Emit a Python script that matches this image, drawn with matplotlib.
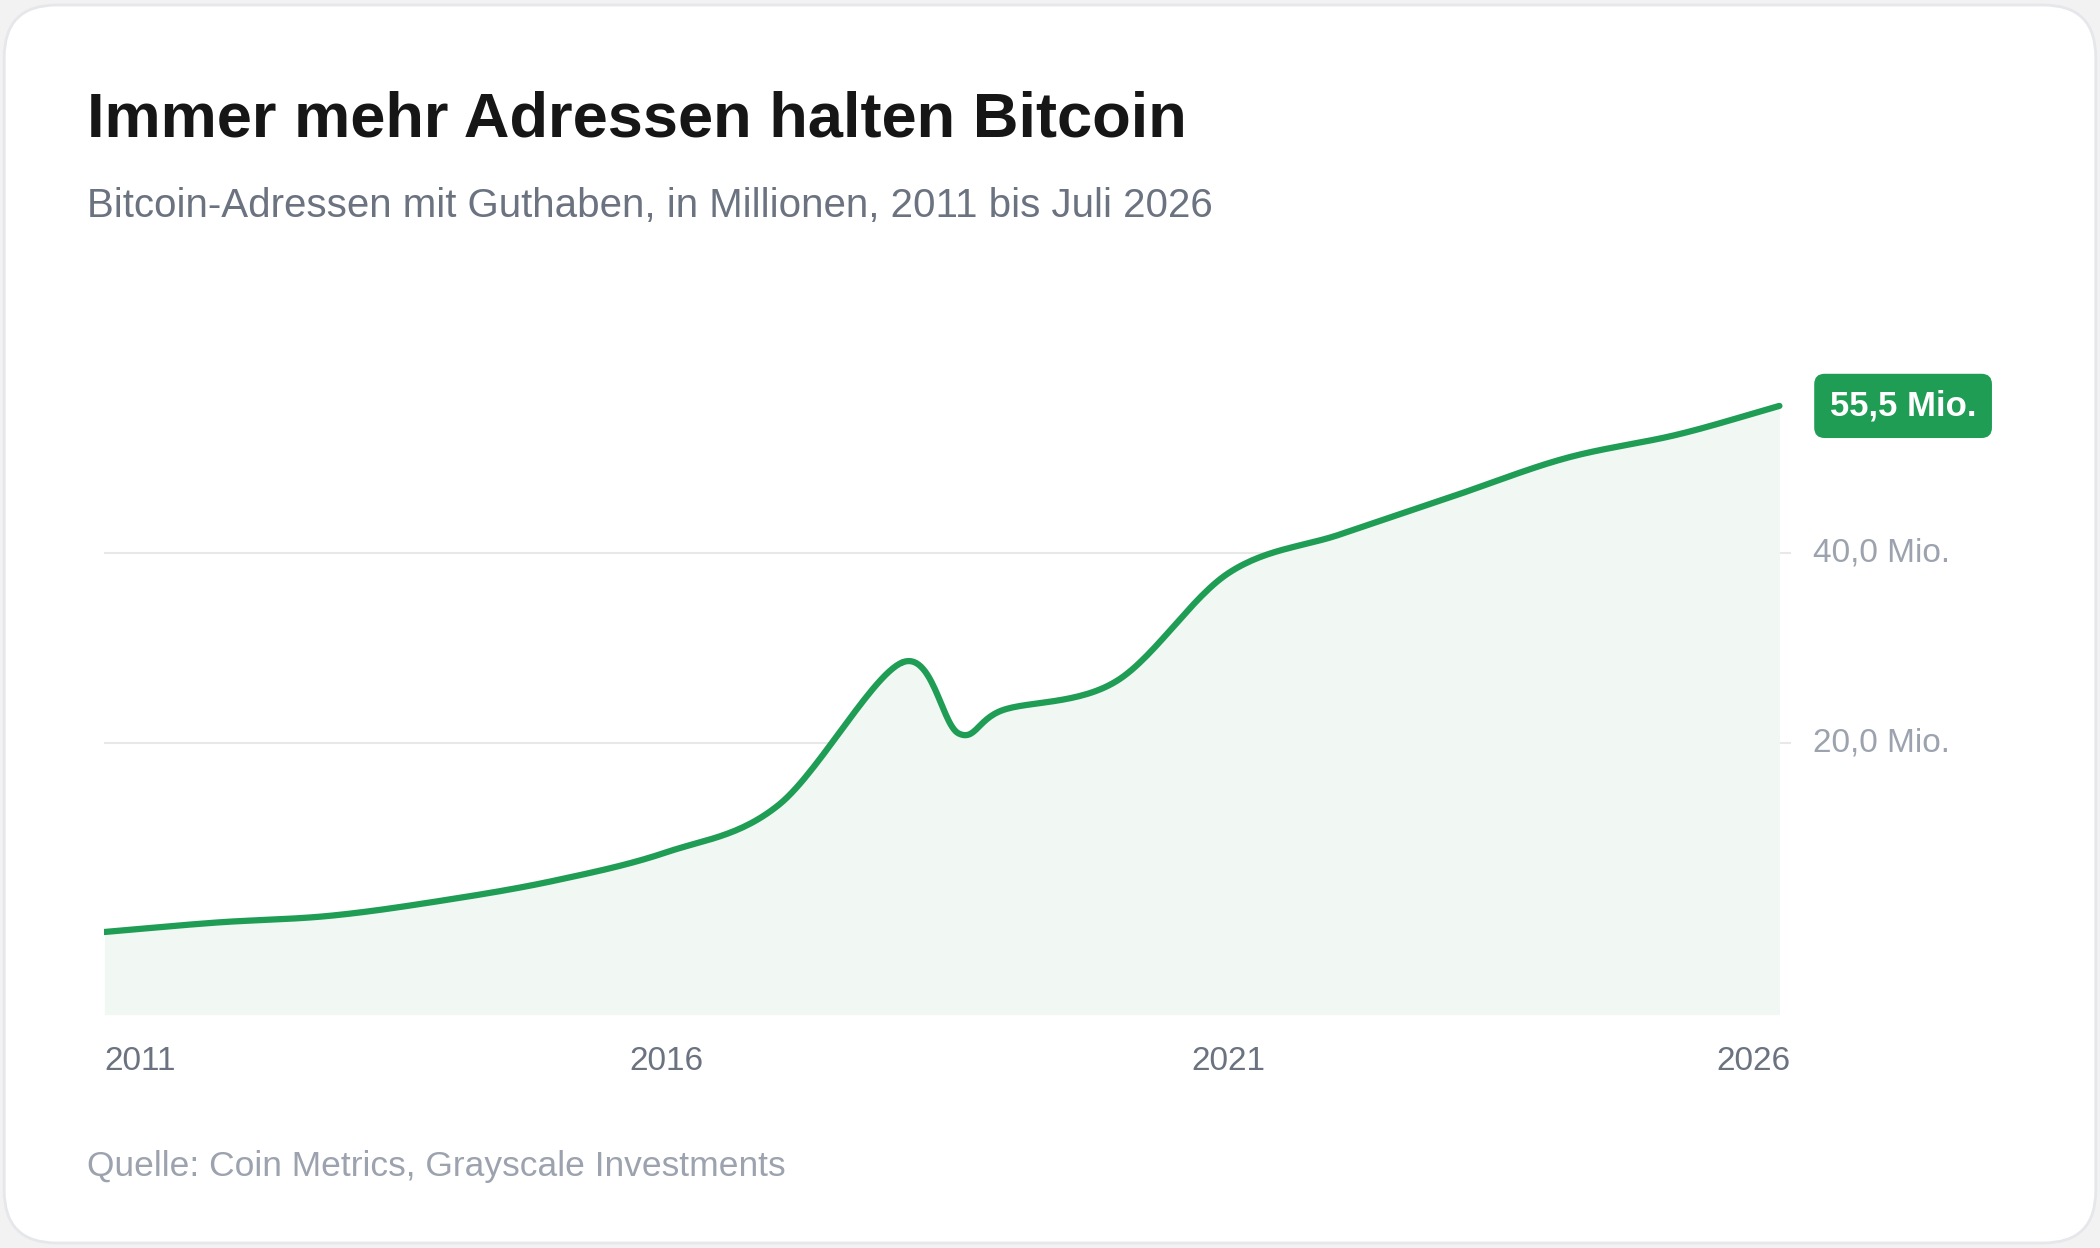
import matplotlib.pyplot as plt
import numpy as np
from matplotlib.patches import FancyBboxPatch

plt.rcParams['font.family'] = ['Liberation Sans', 'DejaVu Sans']

# Daten (Millionen Adressen mit Guthaben)
years = [2011.0, 2012.0, 2013.0, 2014.0, 2015.0, 2016.0, 2017.0, 2018.1, 2018.6,
         2019.0, 2020.0, 2021.0, 2022.0, 2023.0, 2024.0, 2025.0, 2025.9]
addresses = [0.1, 1.1, 1.8, 3.4, 5.5, 8.5, 13.5, 28.5, 21.0,
             23.5, 26.5, 37.9, 42.0, 46.0, 50.0, 52.5, 55.5]
tick_years = [2011, 2016, 2021, 2026]
y_ticks = [20, 40]
last_label = '55,5 Mio.'

green = '#1f9d55'


def smooth(x, y, n=30):
    # Catmull-Rom Spline durch die Punkte
    x = np.asarray(x); y = np.asarray(y)
    px = np.concatenate([[2 * x[0] - x[1]], x, [2 * x[-1] - x[-2]]])
    py = np.concatenate([[2 * y[0] - y[1]], y, [2 * y[-1] - y[-2]]])
    xs, ys = [], []
    t = np.linspace(0, 1, n)
    for i in range(1, len(px) - 2):
        for p, out in ((px, xs), (py, ys)):
            p0, p1, p2, p3 = p[i - 1], p[i], p[i + 1], p[i + 2]
            out.extend(0.5 * (2 * p1 + (-p0 + p2) * t + (2 * p0 - 5 * p1 + 4 * p2 - p3) * t ** 2
                              + (-p0 + 3 * p1 - 3 * p2 + p3) * t ** 3))
    return np.array(xs), np.array(ys)


fig = plt.figure(figsize=(21, 12.48), dpi=100)
fig.patch.set_facecolor('#f2f2f2')
card = FancyBboxPatch((0.002, 0.004), 0.996, 0.992, boxstyle='round,pad=0,rounding_size=0.025',
                      transform=fig.transFigure, facecolor='white', edgecolor='#e5e7eb', lw=2,
                      mutation_aspect=21 / 12.48, zorder=-10)
fig.patches.append(card)

fig.text(0.0415, 0.904, 'Immer mehr Adressen halten Bitcoin', fontsize=45.5, fontweight='bold',
         color='#161616', va='center')
fig.text(0.0415, 0.835, 'Bitcoin-Adressen mit Guthaben, in Millionen, 2011 bis Juli 2026',
         fontsize=29, color='#6b7280', va='center')
fig.text(0.0415, 0.065, 'Quelle: Coin Metrics, Grayscale Investments', fontsize=25.5,
         color='#9ca3af', va='center')

ax = fig.add_axes([0.0497, 0.187, 0.8030, 0.522])
xs, ys = smooth(years, addresses)
ax.fill_between(xs, ys, -8.6, color='#f1f7f3', lw=0)
ax.plot(xs, ys, color=green, lw=4.5, solid_capstyle='round')
ax.set_xlim(2011, 2026)
ax.set_ylim(-8.6, 60)
for v in y_ticks:
    ax.axhline(v, color='#e8e8e8', lw=1.5, zorder=0)
    ax.text(2026.2, v, f'{v:.1f}'.replace('.', ',') + ' Mio.', fontsize=24, color='#9ca3af',
            va='center', ha='left')
ax.set_yticks([])
ax.set_xticks([])
for i, yr in enumerate(tick_years):
    ha = 'left' if i == 0 else ('right' if i == len(tick_years) - 1 else 'center')
    ax.text(yr, -13.5, str(yr), fontsize=24, color='#6b7280', ha=ha, va='center')
for s in ax.spines.values():
    s.set_visible(False)
ax.patch.set_alpha(0)

ax.annotate(last_label, (years[-1], addresses[-1]), xytext=(2027.0, addresses[-1]),
            fontsize=25, fontweight='bold', color='white', ha='center', va='center',
            bbox=dict(boxstyle='round,pad=0.45,rounding_size=0.3', fc=green, ec='none'),
            annotation_clip=False)

fig.savefig('out.png', dpi=100, facecolor=fig.get_facecolor())
